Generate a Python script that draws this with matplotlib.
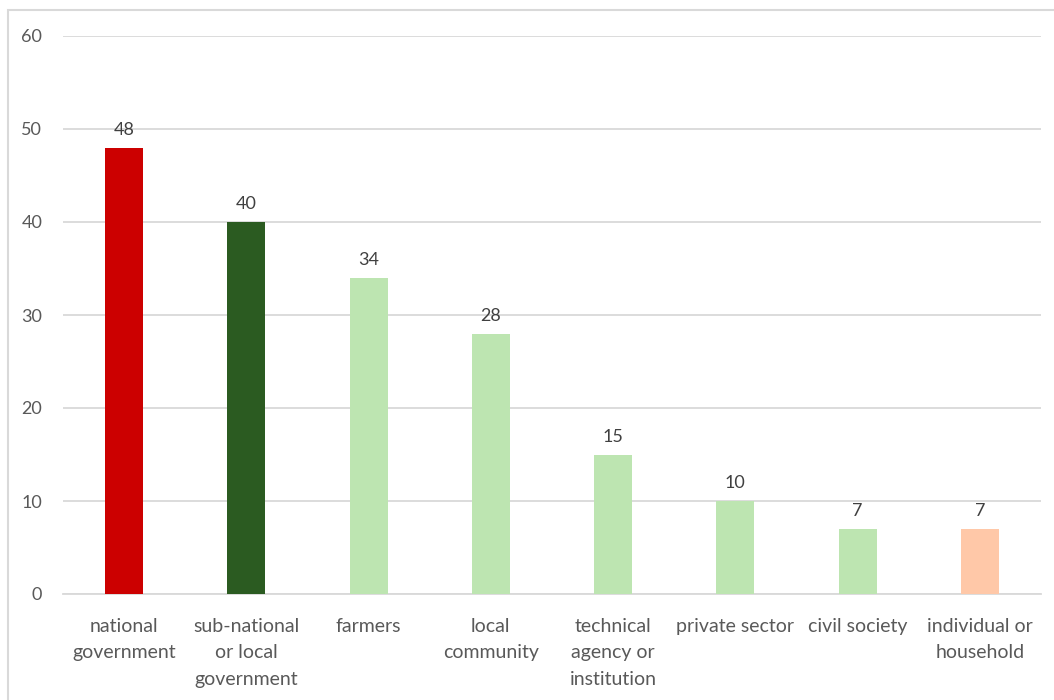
import matplotlib
matplotlib.use("Agg")
import matplotlib.pyplot as plt
from matplotlib.patches import Rectangle

categories = ["national\ngovernment", "sub-national\nor local\ngovernment", "farmers",
              "local\ncommunity", "technical\nagency or\ninstitution", "private sector",
              "civil society", "individual or\nhousehold"]
values = [48, 40, 34, 28, 15, 10, 7, 7]
colors = ["#CC0000", "#2B5B21", "#BDE5B1", "#BDE5B1", "#BDE5B1", "#BDE5B1", "#BDE5B1", "#FFC8A8"]
yticks = [0, 10, 20, 30, 40, 50, 60]

plt.rcParams['font.family'] = ['Lato', 'DejaVu Sans']

fig = plt.figure(figsize=(10.54, 7.0), dpi=100)
ax = fig.add_axes([63/1054, 1-594/700, (1041-63)/1054, (594-36)/700])

x = list(range(len(values)))
bars = ax.bar(x, values, width=0.31, color=colors, zorder=3)
for xi, v in zip(x, values):
    ax.annotate(str(v), (xi, v), xytext=(0, 7), textcoords="offset points",
                ha="center", va="bottom", fontsize=13, color="#404040")

ax.set_xlim(-0.5, len(values) - 0.5)
ax.set_ylim(0, 60)
ax.set_yticks(yticks)
ax.set_yticklabels([str(t) for t in yticks], fontsize=13, color="#595959")
ax.set_xticks(x)
ax.set_xticklabels(categories, fontsize=14, color="#595959", linespacing=1.7, va="top")
ax.tick_params(axis="both", length=0)
ax.tick_params(axis="y", pad=15)
ax.tick_params(axis="x", pad=17)
ax.grid(axis="y", color="#D9D9D9", linewidth=1.3, zorder=0)
for s in ["top", "right", "left"]:
    ax.spines[s].set_visible(False)
ax.spines["bottom"].set_color("#D9D9D9")
ax.spines["bottom"].set_linewidth(1.3)

fig.patches.append(Rectangle((8/1054, -0.1), 1.2, 1 - 10/700 + 0.1, transform=fig.transFigure,
                             fill=False, edgecolor="#D9D9D9", linewidth=1.5))

fig.savefig("out.png", dpi=100)
